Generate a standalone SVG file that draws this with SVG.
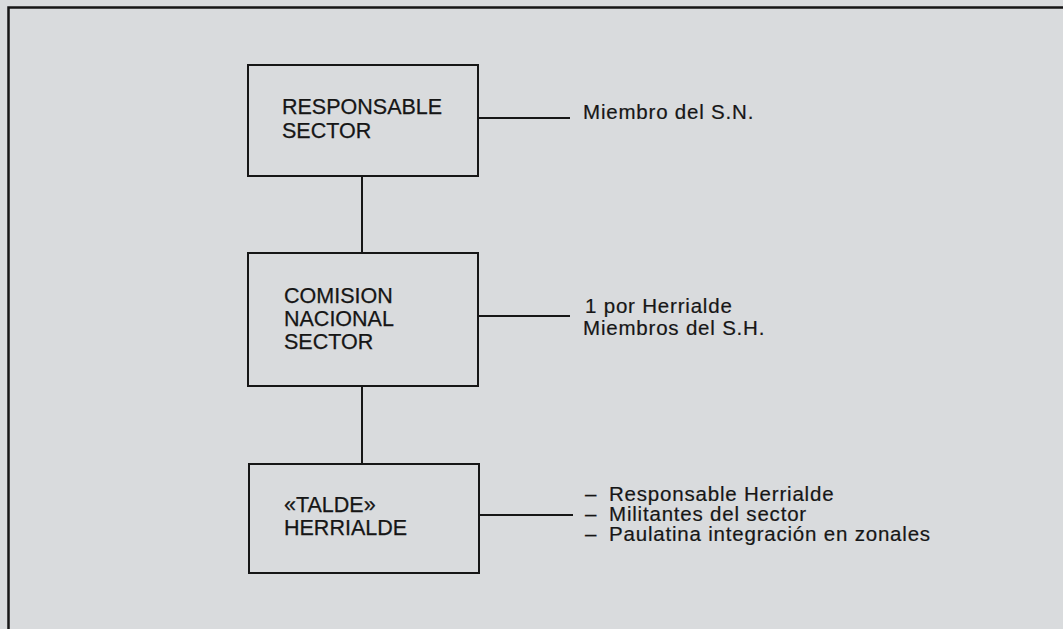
<svg xmlns="http://www.w3.org/2000/svg" width="1063" height="629" viewBox="0 0 1063 629">
<style>
.bg{fill:#d9dbdd}
.frame{fill:none;stroke:#161616;stroke-width:2.5}
.box{fill:none;stroke:#161616;stroke-width:2}
.ln{fill:none;stroke:#161616;stroke-width:2}
.t{font-family:"Liberation Sans",Arial,sans-serif;font-size:21.5px;fill:#161616;stroke:#161616;stroke-width:0.25}
.n{font-family:"Liberation Sans",Arial,sans-serif;font-size:20.5px;fill:#161616;stroke:#161616;stroke-width:0.2;letter-spacing:0.8px}
</style>
<rect class="bg" x="0" y="0" width="1063" height="629"/>
<path class="frame" d="M8.5,629 V7.5 H1063"/>
<g id="connectors">
<line class="ln" x1="362" y1="176" x2="362" y2="253"/>
<line class="ln" x1="362" y1="386" x2="362" y2="464"/>
<line class="ln" x1="478" y1="118" x2="570" y2="118"/>
<line class="ln" x1="478" y1="316" x2="570" y2="316"/>
<line class="ln" x1="479" y1="515" x2="573" y2="515"/>
</g>
<g id="node-responsable">
<rect class="box" x="248" y="65" width="230" height="111"/>
<text class="t" x="282" y="114">RESPONSABLE</text>
<text class="t" x="282" y="138">SECTOR</text>
</g>
<g id="node-comision">
<rect class="box" x="248" y="253" width="230" height="133"/>
<text class="t" x="284" y="303">COMISION</text>
<text class="t" x="284" y="326">NACIONAL</text>
<text class="t" x="284" y="349">SECTOR</text>
</g>
<g id="node-talde">
<rect class="box" x="249" y="464" width="230" height="109"/>
<text class="t" x="284" y="512">«TALDE»</text>
<text class="t" x="284" y="535">HERRIALDE</text>
</g>
<g id="note-responsable">
<text class="n" x="583" y="119">Miembro del S.N.</text>
</g>
<g id="note-comision">
<text class="n" x="585" y="313">1 por Herrialde</text>
<text class="n" x="583" y="335">Miembros del S.H.</text>
</g>
<g id="note-talde">
<text class="n" y="501"><tspan x="585">–</tspan><tspan x="609">Responsable Herrialde</tspan></text>
<text class="n" y="521"><tspan x="585">–</tspan><tspan x="609">Militantes del sector</tspan></text>
<text class="n" y="541"><tspan x="585">–</tspan><tspan x="609">Paulatina integración en zonales</tspan></text>
</g>
</svg>
